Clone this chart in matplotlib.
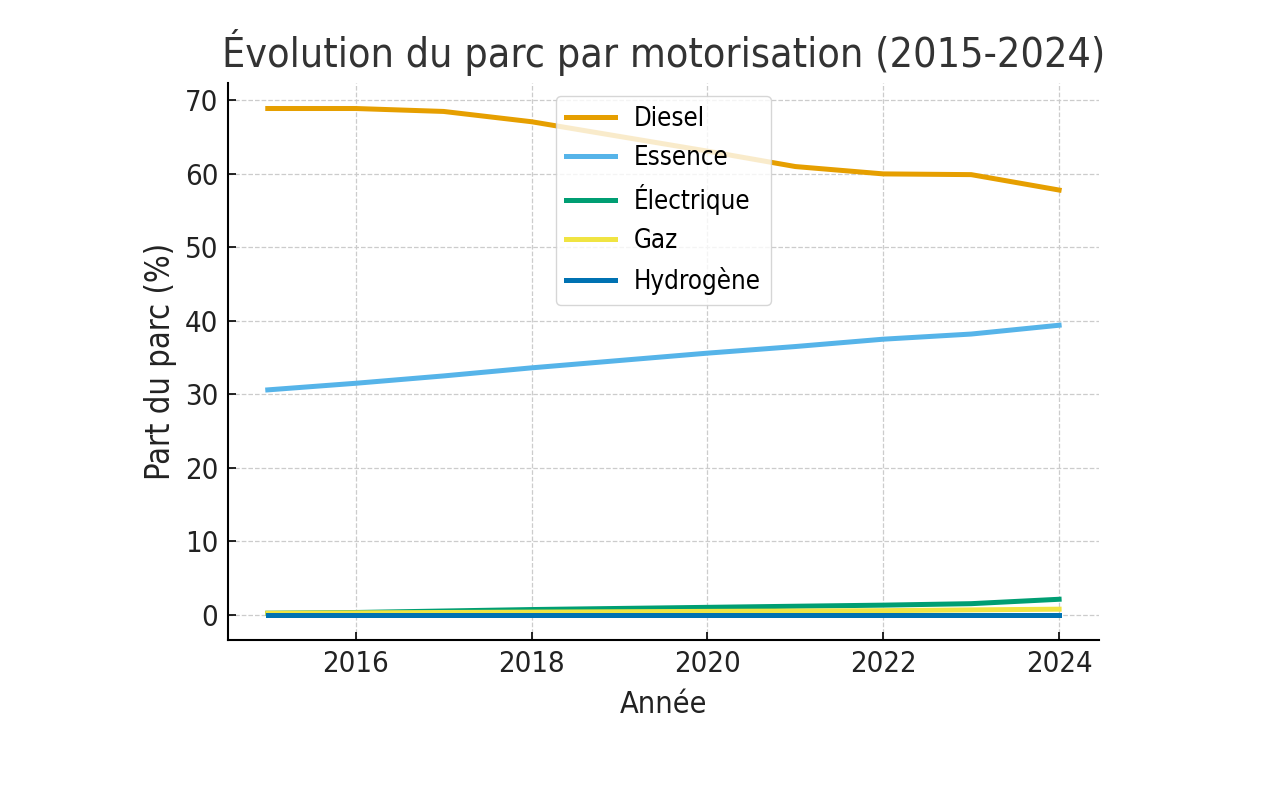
import matplotlib
matplotlib.use('Agg')
import matplotlib.pyplot as plt

annees = [2015, 2016, 2017, 2018, 2019, 2020, 2021, 2022, 2023, 2024]
diesel = [68.9, 68.9, 68.5, 67.1, 65.1, 63.1, 61.0, 60.0, 59.9, 57.8]
essence = [30.6, 31.5, 32.5, 33.6, 34.6, 35.6, 36.5, 37.5, 38.2, 39.4]
electrique = [0.2, 0.3, 0.5, 0.7, 0.85, 1.0, 1.15, 1.3, 1.5, 2.1]
gaz = [0.2, 0.25, 0.3, 0.35, 0.4, 0.45, 0.5, 0.55, 0.65, 0.75]
hydrogene = [0.0, 0.0, 0.0, 0.0, 0.0, 0.0, 0.0, 0.0, 0.0, 0.0]

series = [
    ('Diesel', diesel, '#E69F00'),
    ('Essence', essence, '#56B4E9'),
    ('Électrique', electrique, '#009E73'),
    ('Gaz', gaz, '#F0E442'),
    ('Hydrogène', hydrogene, '#0072B2'),
]

plt.rcParams['font.family'] = 'DejaVu Sans'
plt.rcParams['font.stretch'] = 'condensed'

fig = plt.figure(figsize=(12.82, 8), dpi=100)
ax = fig.add_axes([0.178, 0.2, 0.679, 0.696])

for name, values, color in series:
    ax.plot(annees, values, label=name, color=color, linewidth=3.6)

ax.set_title('Évolution du parc par motorisation (2015-2024)', fontsize=29.5, color='#333333', pad=12)
ax.set_xlabel('Année', fontsize=22, color='#222222', labelpad=9)
ax.set_ylabel('Part du parc (%)', fontsize=23.5, color='#222222', labelpad=6)
ax.set_xticks([2016, 2018, 2020, 2022, 2024])
ax.set_yticks(range(0, 71, 10))
ax.tick_params(direction='in', length=6, width=1.2, labelsize=21, labelcolor='#222222', pad=7)
ax.grid(True, linestyle='--', color='#cccccc', linewidth=0.9)
for side in ['top', 'right']:
    ax.spines[side].set_visible(False)
for side in ['left', 'bottom']:
    ax.spines[side].set_linewidth(1.5)

ax.legend(loc='upper center', fontsize=18.5, borderpad=0.4, labelspacing=0.5,
          handlelength=1.9, handletextpad=0.75)

fig.savefig('out.png', dpi=100)
